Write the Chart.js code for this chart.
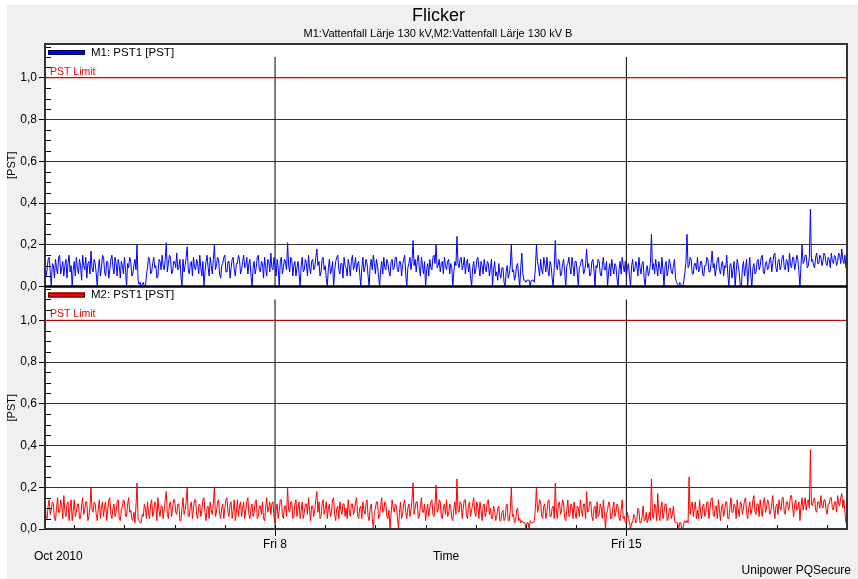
<!DOCTYPE html>
<html>
<head>
<meta charset="utf-8">
<title>Flicker</title>
<script src="https://cdn.jsdelivr.net/npm/chart.js@4.4.0/dist/chart.umd.min.js"></script>
<style>
  html, body { margin: 0; padding: 0; background: #fff; }
  canvas { display: block; }
</style>
</head>
<body>
<canvas id="flicker-chart" width="858" height="579"></canvas>
<script>
// 30-minute PST values, first sample Sun 3 Oct 2010 10:00, one row per day
const startDay = 2 + 10 / 24;   // days after 1 Oct 2010 00:00
const stepDay = 1 / 48;

// M1: Vattenfall Lärje 130 kV
const m1Pst = [
  0.12,0.05,0.08,0.13,0.14,0.07,0.0,0.11,0.10,0.04,0.13,0.09,0.06,0.14,0.15,0.06,0.09,0.12,0.05,0.10,0.13,0.04,0.11,0.15,0.07,0.10,0.0,0.08,0.12,0.05,0.14,0.09,0.06,0.13,0.10,0.03,0.15,0.10,0.08,0.14,0.04,0.11,0.12,0.06,0.17,0.09,0.07,0.13,
  0.11,0.06,0.0,0.09,0.13,0.05,0.09,0.15,0.14,0.07,0.05,0.12,0.12,0.04,0.08,0.13,0.15,0.09,0.06,0.14,0.11,0.05,0.13,0.10,0.04,0.12,0.10,0.06,0.14,0.08,0.0,0.11,0.09,0.14,0.12,0.05,0.06,0.10,0.13,0.08,0.20,0.03,0.01,0.02,0.0,0.01,0.02,0.0,
  0.0,0.05,0.09,0.14,0.13,0.06,0.07,0.11,0.14,0.09,0.10,0.04,0.05,0.13,0.12,0.08,0.15,0.10,0.08,0.13,0.21,0.07,0.11,0.15,0.14,0.06,0.07,0.12,0.12,0.09,0.16,0.08,0.09,0.13,0.05,0.0,0.13,0.07,0.10,0.14,0.19,0.08,0.06,0.11,0.12,0.05,0.14,0.09,
  0.08,0.13,0.11,0.06,0.15,0.09,0.05,0.12,0.0,0.07,0.12,0.15,0.09,0.05,0.14,0.10,0.06,0.13,0.20,0.08,0.10,0.14,0.13,0.06,0.04,0.10,0.11,0.14,0.15,0.07,0.07,0.12,0.12,0.04,0.09,0.13,0.14,0.08,0.05,0.11,0.11,0.15,0.13,0.06,0.08,0.12,0.15,0.09,
  0.10,0.14,0.06,0.11,0.13,0.05,0.0,0.09,0.12,0.06,0.09,0.14,0.15,0.08,0.07,0.12,0.11,0.04,0.14,0.10,0.05,0.13,0.12,0.07,0.16,0.09,0.08,0.14,0.10,0.05,0.13,0.09,0.0,0.12,0.14,0.06,0.09,0.13,0.12,0.08,0.21,0.10,0.07,0.14,0.13,0.05,0.10,0.12,
  0.05,0.09,0.12,0.06,0.0,0.10,0.14,0.07,0.08,0.13,0.11,0.05,0.15,0.09,0.06,0.12,0.13,0.08,0.09,0.14,0.18,0.10,0.12,0.05,0.07,0.13,0.14,0.08,0.10,0.04,0.0,0.09,0.13,0.06,0.08,0.12,0.0,0.07,0.12,0.14,0.15,0.08,0.06,0.11,0.11,0.04,0.14,0.10,
  0.09,0.05,0.13,0.10,0.05,0.12,0.15,0.08,0.10,0.14,0.07,0.11,0.12,0.06,0.0,0.09,0.14,0.07,0.09,0.13,0.11,0.05,0.0,0.10,0.13,0.08,0.15,0.11,0.06,0.13,0.10,0.05,0.0,0.08,0.12,0.06,0.14,0.09,0.08,0.13,0.11,0.07,0.05,0.12,0.13,0.08,0.09,0.14,
  0.14,0.08,0.07,0.12,0.12,0.05,0.10,0.13,0.15,0.06,0.0,0.09,0.11,0.14,0.08,0.12,0.22,0.10,0.13,0.07,0.12,0.15,0.09,0.05,0.14,0.10,0.06,0.12,0.0,0.08,0.11,0.05,0.13,0.09,0.08,0.14,0.15,0.11,0.20,0.09,0.10,0.13,0.07,0.11,0.12,0.06,0.14,0.10,
  0.08,0.12,0.13,0.06,0.11,0.09,0.0,0.07,0.12,0.10,0.24,0.11,0.09,0.13,0.14,0.08,0.10,0.14,0.06,0.11,0.13,0.07,0.11,0.04,0.0,0.09,0.12,0.06,0.08,0.13,0.14,0.09,0.05,0.12,0.10,0.06,0.13,0.09,0.07,0.12,0.11,0.05,0.09,0.13,0.0,0.08,0.12,0.05,
  0.07,0.03,0.11,0.06,0.04,0.09,0.09,0.02,0.0,0.07,0.10,0.04,0.06,0.10,0.20,0.07,0.08,0.03,0.05,0.10,0.11,0.05,0.0,0.09,0.16,0.06,0.03,0.03,0.02,0.03,0.03,0.03,0.0,0.03,0.03,0.03,0.02,0.09,0.20,0.12,0.09,0.05,0.13,0.08,0.06,0.14,0.11,0.07,
  0.14,0.08,0.05,0.12,0.10,0.04,0.0,0.09,0.22,0.10,0.08,0.13,0.12,0.05,0.06,0.11,0.13,0.07,0.0,0.10,0.11,0.14,0.09,0.06,0.14,0.10,0.05,0.12,0.12,0.07,0.0,0.09,0.10,0.13,0.13,0.06,0.07,0.11,0.18,0.09,0.11,0.05,0.06,0.12,0.13,0.08,0.0,0.10,
  0.09,0.13,0.12,0.06,0.05,0.10,0.14,0.08,0.08,0.12,0.0,0.07,0.11,0.05,0.13,0.09,0.06,0.11,0.10,0.04,0.0,0.08,0.12,0.06,0.14,0.10,0.07,0.12,0.05,0.09,0.11,0.05,0.0,0.10,0.13,0.07,0.08,0.12,0.10,0.05,0.14,0.09,0.06,0.11,0.12,0.04,0.0,0.08,
  0.10,0.05,0.07,0.11,0.25,0.08,0.11,0.06,0.13,0.09,0.05,0.12,0.09,0.06,0.14,0.08,0.0,0.10,0.12,0.05,0.08,0.13,0.11,0.07,0.06,0.10,0.13,0.04,0.02,0.01,0.0,0.02,0.01,0.0,0.0,0.03,0.07,0.12,0.25,0.09,0.10,0.14,0.13,0.06,0.06,0.11,0.11,0.08,
  0.14,0.07,0.08,0.12,0.12,0.06,0.05,0.10,0.10,0.14,0.13,0.07,0.07,0.11,0.17,0.09,0.11,0.05,0.09,0.13,0.14,0.08,0.06,0.11,0.12,0.05,0.10,0.09,0.15,0.06,0.0,0.10,0.11,0.04,0.08,0.12,0.0,0.07,0.13,0.10,0.06,0.0,0.0,0.09,0.12,0.05,0.09,0.13,
  0.0,0.08,0.14,0.05,0.0,0.09,0.11,0.06,0.07,0.12,0.13,0.08,0.10,0.14,0.15,0.07,0.06,0.11,0.12,0.08,0.09,0.13,0.14,0.07,0.11,0.15,0.16,0.09,0.07,0.12,0.13,0.08,0.10,0.14,0.15,0.09,0.08,0.13,0.12,0.07,0.16,0.10,0.09,0.14,0.14,0.08,0.11,0.15,
  0.13,0.07,0.0,0.10,0.20,0.11,0.12,0.15,0.15,0.09,0.10,0.14,0.37,0.12,0.13,0.10,0.09,0.14,0.16,0.11,0.11,0.15,0.14,0.10,0.12,0.16,0.15,0.11,0.10,0.14,0.13,0.09,0.16,0.12,0.11,0.15,0.14,0.10,0.12,0.16,0.15,0.11,0.18,0.13,0.11,0.15,0.09,0.12
];

// M2: Vattenfall Lärje 130 kV B
const m2Pst = [
  0.13,0.06,0.05,0.11,0.14,0.07,0.09,0.13,0.12,0.05,0.04,0.10,0.15,0.08,0.08,0.14,0.11,0.05,0.16,0.09,0.06,0.12,0.13,0.04,0.10,0.14,0.04,0.09,0.14,0.06,0.08,0.12,0.12,0.05,0.05,0.11,0.15,0.07,0.09,0.13,0.13,0.04,0.06,0.10,0.20,0.09,0.08,0.13,
  0.12,0.07,0.04,0.10,0.14,0.05,0.10,0.13,0.06,0.11,0.13,0.04,0.09,0.14,0.15,0.07,0.05,0.10,0.12,0.06,0.08,0.13,0.14,0.05,0.04,0.09,0.11,0.14,0.13,0.06,0.06,0.12,0.15,0.08,0.09,0.05,0.04,0.08,0.03,0.11,0.22,0.05,0.04,0.03,0.03,0.07,0.06,0.12,
  0.10,0.05,0.13,0.08,0.05,0.12,0.14,0.06,0.08,0.13,0.12,0.04,0.15,0.09,0.06,0.11,0.11,0.05,0.09,0.14,0.18,0.07,0.05,0.12,0.13,0.06,0.10,0.14,0.14,0.08,0.07,0.12,0.12,0.04,0.04,0.10,0.15,0.07,0.09,0.13,0.20,0.06,0.06,0.11,0.13,0.05,0.10,0.14,
  0.14,0.07,0.05,0.11,0.12,0.06,0.09,0.14,0.15,0.08,0.04,0.10,0.11,0.05,0.13,0.09,0.07,0.12,0.20,0.06,0.08,0.13,0.14,0.07,0.05,0.10,0.12,0.05,0.10,0.14,0.15,0.08,0.06,0.12,0.13,0.05,0.09,0.14,0.04,0.08,0.14,0.06,0.11,0.13,0.06,0.10,0.13,0.05,
  0.09,0.13,0.15,0.07,0.05,0.10,0.12,0.06,0.08,0.13,0.14,0.05,0.06,0.11,0.11,0.07,0.13,0.05,0.04,0.10,0.15,0.08,0.10,0.13,0.07,0.12,0.13,0.06,0.03,0.09,0.12,0.05,0.09,0.14,0.14,0.07,0.05,0.11,0.11,0.06,0.20,0.09,0.08,0.13,0.13,0.05,0.06,0.12,
  0.14,0.06,0.10,0.13,0.05,0.09,0.13,0.05,0.08,0.12,0.12,0.07,0.15,0.09,0.04,0.11,0.11,0.06,0.09,0.14,0.18,0.08,0.13,0.05,0.06,0.12,0.14,0.07,0.10,0.13,0.05,0.10,0.12,0.06,0.08,0.14,0.15,0.07,0.04,0.10,0.11,0.05,0.13,0.09,0.07,0.12,0.12,0.06,
  0.10,0.05,0.14,0.08,0.06,0.12,0.12,0.07,0.09,0.13,0.15,0.06,0.05,0.10,0.11,0.05,0.13,0.09,0.07,0.12,0.14,0.06,0.04,0.10,0.12,0.05,0.0,0.08,0.10,0.13,0.13,0.05,0.06,0.11,0.15,0.08,0.09,0.13,0.12,0.06,0.05,0.09,0.0,0.07,0.14,0.10,0.08,0.12,
  0.11,0.06,0.0,0.08,0.13,0.05,0.07,0.12,0.14,0.08,0.05,0.10,0.12,0.06,0.09,0.14,0.22,0.07,0.10,0.13,0.13,0.05,0.06,0.11,0.15,0.08,0.08,0.12,0.04,0.09,0.12,0.06,0.10,0.13,0.14,0.07,0.06,0.12,0.21,0.08,0.09,0.14,0.13,0.06,0.05,0.10,0.12,0.07,
  0.14,0.06,0.07,0.12,0.11,0.05,0.04,0.10,0.13,0.07,0.24,0.09,0.08,0.13,0.12,0.05,0.10,0.14,0.14,0.07,0.05,0.11,0.13,0.06,0.09,0.12,0.15,0.08,0.06,0.13,0.11,0.05,0.13,0.09,0.04,0.11,0.12,0.06,0.08,0.13,0.14,0.07,0.10,0.05,0.05,0.11,0.09,0.04,
  0.06,0.10,0.11,0.04,0.04,0.08,0.09,0.04,0.05,0.11,0.12,0.04,0.04,0.09,0.20,0.06,0.07,0.03,0.04,0.09,0.10,0.04,0.05,0.03,0.04,0.03,0.03,0.03,0.0,0.03,0.03,0.0,0.04,0.03,0.03,0.03,0.04,0.10,0.20,0.08,0.10,0.14,0.13,0.06,0.05,0.11,0.12,0.05,
  0.08,0.13,0.14,0.06,0.06,0.10,0.11,0.05,0.22,0.09,0.05,0.12,0.13,0.07,0.09,0.14,0.12,0.05,0.04,0.09,0.14,0.06,0.07,0.12,0.11,0.05,0.13,0.08,0.05,0.11,0.10,0.06,0.14,0.09,0.06,0.12,0.12,0.05,0.18,0.08,0.09,0.13,0.13,0.06,0.04,0.10,0.11,0.05,
  0.13,0.06,0.07,0.12,0.10,0.05,0.14,0.08,0.0,0.07,0.09,0.13,0.12,0.05,0.05,0.10,0.13,0.06,0.08,0.12,0.11,0.05,0.04,0.09,0.14,0.05,0.06,0.03,0.03,0.08,0.05,0.03,0.0,0.03,0.03,0.07,0.06,0.03,0.04,0.10,0.09,0.03,0.03,0.06,0.11,0.04,0.04,0.08,
  0.03,0.05,0.08,0.04,0.24,0.06,0.05,0.12,0.11,0.04,0.17,0.07,0.04,0.10,0.13,0.05,0.08,0.12,0.12,0.04,0.05,0.09,0.10,0.05,0.07,0.11,0.04,0.03,0.03,0.03,0.0,0.03,0.03,0.0,0.0,0.03,0.04,0.03,0.04,0.03,0.25,0.07,0.11,0.13,0.06,0.10,0.13,0.05,
  0.09,0.05,0.14,0.08,0.05,0.11,0.12,0.06,0.08,0.13,0.13,0.05,0.10,0.14,0.15,0.07,0.06,0.11,0.11,0.05,0.14,0.09,0.04,0.10,0.12,0.06,0.09,0.13,0.13,0.05,0.05,0.10,0.15,0.08,0.08,0.12,0.11,0.05,0.14,0.09,0.06,0.13,0.12,0.07,0.10,0.14,0.15,0.08,
  0.05,0.10,0.13,0.07,0.09,0.14,0.16,0.08,0.07,0.12,0.12,0.06,0.14,0.09,0.06,0.13,0.15,0.08,0.10,0.14,0.13,0.07,0.08,0.12,0.16,0.09,0.05,0.11,0.12,0.07,0.14,0.10,0.09,0.15,0.15,0.08,0.07,0.13,0.13,0.09,0.11,0.16,0.16,0.10,0.06,0.12,0.14,0.09,
  0.10,0.13,0.04,0.11,0.15,0.09,0.12,0.15,0.09,0.13,0.14,0.10,0.38,0.12,0.11,0.14,0.15,0.09,0.08,0.13,0.13,0.10,0.16,0.11,0.10,0.14,0.14,0.09,0.07,0.12,0.12,0.15,0.15,0.10,0.09,0.13,0.13,0.08,0.16,0.12,0.11,0.15,0.17,0.10,0.14,0.08,0.03,0.09
];

const pstLimit = 1.0;
const yTicks = [0, 0.2, 0.4, 0.6, 0.8, 1.0];
const dayTicks = [3, 4, 5, 6, 7, 8, 9, 10, 11, 12, 13, 14, 15, 16, 17, 18];  // midnights
const markerDays = [7, 14];
const markerLabels = ['Fri 8', 'Fri 15'];
const markerTop = 1.1;

const xMax = startDay + (m1Pst.length - 1) * stepDay;
const yMax = 1.162;
const font = '"Liberation Sans", Arial, sans-serif';

const toPoints = arr => arr.map((v, i) => ({ x: startDay + i * stepDay, y: v }));
const limitLine = [{ x: startDay, y: pstLimit }, { x: xMax, y: pstLimit }];
const markerLines = [];
markerDays.forEach((d, k) => {
    if (k > 0) markerLines.push({ x: d, y: null });
    markerLines.push({ x: d, y: 0 }, { x: d, y: markerTop });
});

const panels = [
    { axis: 'yTop', label: 'M1: PST1 [PST]', fill: '#0000ff', edge: '#000050', limit: '#ff0000' },
    { axis: 'yBot', label: 'M2: PST1 [PST]', fill: '#ff0000', edge: '#400000', limit: '#e00000' }
];

Chart.defaults.font.family = font;
Chart.defaults.color = '#000';

// background, frame, minor ticks and free text
const decor = {
    id: 'decor',
    beforeDraw(chart) {
        const { ctx, chartArea: a } = chart;
        ctx.save();
        ctx.fillStyle = '#f0f0f0';
        ctx.fillRect(7, 5, chart.width - 7, chart.height - 5);
        ctx.fillStyle = '#fff';
        ctx.fillRect(a.left, a.top, a.right - a.left, a.bottom - a.top);
        ctx.restore();
    },
    afterDatasetsDraw(chart) {
        const { ctx, chartArea: a, scales } = chart;
        ctx.save();
        ctx.strokeStyle = '#000';
        ctx.lineWidth = 1;
        panels.forEach(p => {
            const s = scales[p.axis];
            for (let k = 1; k * 0.05 < s.max; k++) {
                if (k % 4 === 0) continue;
                const y = Math.round(s.getPixelForValue(k * 0.05)) + 0.5;
                ctx.beginPath();
                ctx.moveTo(a.left, y);
                ctx.lineTo(a.left + 6, y);
                ctx.stroke();
            }
        });
        dayTicks.forEach(d => {
            const x = Math.round(scales.x.getPixelForValue(d)) + 0.5;
            ctx.beginPath();
            ctx.moveTo(x, a.bottom);
            ctx.lineTo(x, a.bottom - 4);
            ctx.stroke();
        });
        ctx.strokeStyle = '#333';
        ctx.lineWidth = 2;
        ctx.strokeRect(a.left, a.top, a.right - a.left, a.bottom - a.top);
        ctx.strokeStyle = '#000';
        ctx.lineWidth = 2.5;
        ctx.beginPath();
        ctx.moveTo(a.left, scales.yTop.bottom);
        ctx.lineTo(a.right, scales.yTop.bottom);
        ctx.stroke();
        ctx.restore();
    },
    afterDraw(chart) {
        const { ctx, chartArea: a, scales } = chart;
        ctx.save();
        ctx.textBaseline = 'middle';
        ctx.fillStyle = '#000';
        ctx.textAlign = 'center';
        ctx.font = '18px ' + font;
        ctx.fillText('Flicker', 438.5, 16.5);
        ctx.font = '11px ' + font;
        ctx.fillText('M1:Vattenfall Lärje 130 kV,M2:Vattenfall Lärje 130 kV B', 438, 34);

        ctx.textAlign = 'left';
        panels.forEach(p => {
            const s = scales[p.axis];
            ctx.fillStyle = p.fill;
            ctx.fillRect(a.left + 3, s.top + 6, 37, 5);
            ctx.strokeStyle = p.edge;
            ctx.lineWidth = 1;
            ctx.strokeRect(a.left + 3.5, s.top + 6.5, 36, 4);
            ctx.fillStyle = '#000';
            ctx.font = '11.5px ' + font;
            ctx.fillText(p.label, a.left + 46, s.top + 8.5);
            ctx.fillStyle = p.limit;
            ctx.font = '10.5px ' + font;
            ctx.fillText('PST Limit', a.left + 5, s.getPixelForValue(pstLimit) - 6);
        });

        ctx.fillStyle = '#000';
        ctx.font = '12px ' + font;
        ctx.fillText('Oct 2010', 34, 557);
        ctx.textAlign = 'right';
        ctx.fillText('Unipower PQSecure', 851, 571);
        ctx.restore();
    }
};

const yAxis = (weight) => ({
    type: 'linear',
    position: 'left',
    stack: 'pst',
    stackWeight: 1,
    weight: weight,
    min: 0,
    max: yMax,
    afterBuildTicks: s => { s.ticks = yTicks.map(v => ({ value: v })); },
    afterFit: s => { s.width = 45; },
    ticks: {
        padding: 2,
        color: '#000',
        font: { size: 12 },
        callback: v => v.toFixed(1).replace('.', ',')
    },
    grid: { color: '#333', lineWidth: 1, tickColor: '#000', tickLength: 6 },
    border: { display: false },
    title: { display: true, text: '[PST]', color: '#000', font: { size: 11 }, padding: { top: 5, bottom: 0 } }
});

new Chart(document.getElementById('flicker-chart'), {
    type: 'line',
    data: {
        datasets: [
            { label: 'M1: PST1 [PST]', data: toPoints(m1Pst), yAxisID: 'yTop', borderColor: '#0000ff', borderWidth: 1 },
            { label: 'M2: PST1 [PST]', data: toPoints(m2Pst), yAxisID: 'yBot', borderColor: '#ff0000', borderWidth: 1 },
            { label: 'PST Limit', data: limitLine, yAxisID: 'yTop', borderColor: '#ff0000', borderWidth: 1 },
            { label: 'PST Limit', data: limitLine, yAxisID: 'yBot', borderColor: '#e00000', borderWidth: 1 },
            { label: 'days', data: markerLines, yAxisID: 'yTop', borderColor: '#000', borderWidth: 1, spanGaps: false },
            { label: 'days', data: markerLines, yAxisID: 'yBot', borderColor: '#000', borderWidth: 1, spanGaps: false }
        ]
    },
    options: {
        responsive: false,
        animation: false,
        events: [],
        elements: { point: { radius: 0 }, line: { tension: 0 } },
        layout: { padding: { left: 0, right: 11, top: 44, bottom: 0 } },
        plugins: {
            legend: { display: false },
            tooltip: { enabled: false }
        },
        scales: {
            x: {
                type: 'linear',
                min: startDay,
                max: xMax,
                afterBuildTicks: s => { s.ticks = dayTicks.map(v => ({ value: v })); },
                afterFit: s => { s.height = 50; },
                ticks: {
                    autoSkip: false,
                    maxRotation: 0,
                    padding: 1,
                    color: '#000',
                    font: { size: 12 },
                    callback: v => {
                        const k = markerDays.indexOf(v);
                        return k >= 0 ? markerLabels[k] : '';
                    }
                },
                grid: {
                    drawOnChartArea: false,
                    tickLength: 7,
                    tickColor: c => (c.tick && markerDays.includes(c.tick.value)) ? '#000' : 'rgba(0,0,0,0)'
                },
                border: { display: false },
                title: { display: true, text: 'Time', color: '#000', font: { size: 12 }, padding: { top: 0, bottom: 15 } }
            },
            yTop: yAxis(1),
            yBot: yAxis(0)
        }
    },
    plugins: [decor]
});
</script>
</body>
</html>
